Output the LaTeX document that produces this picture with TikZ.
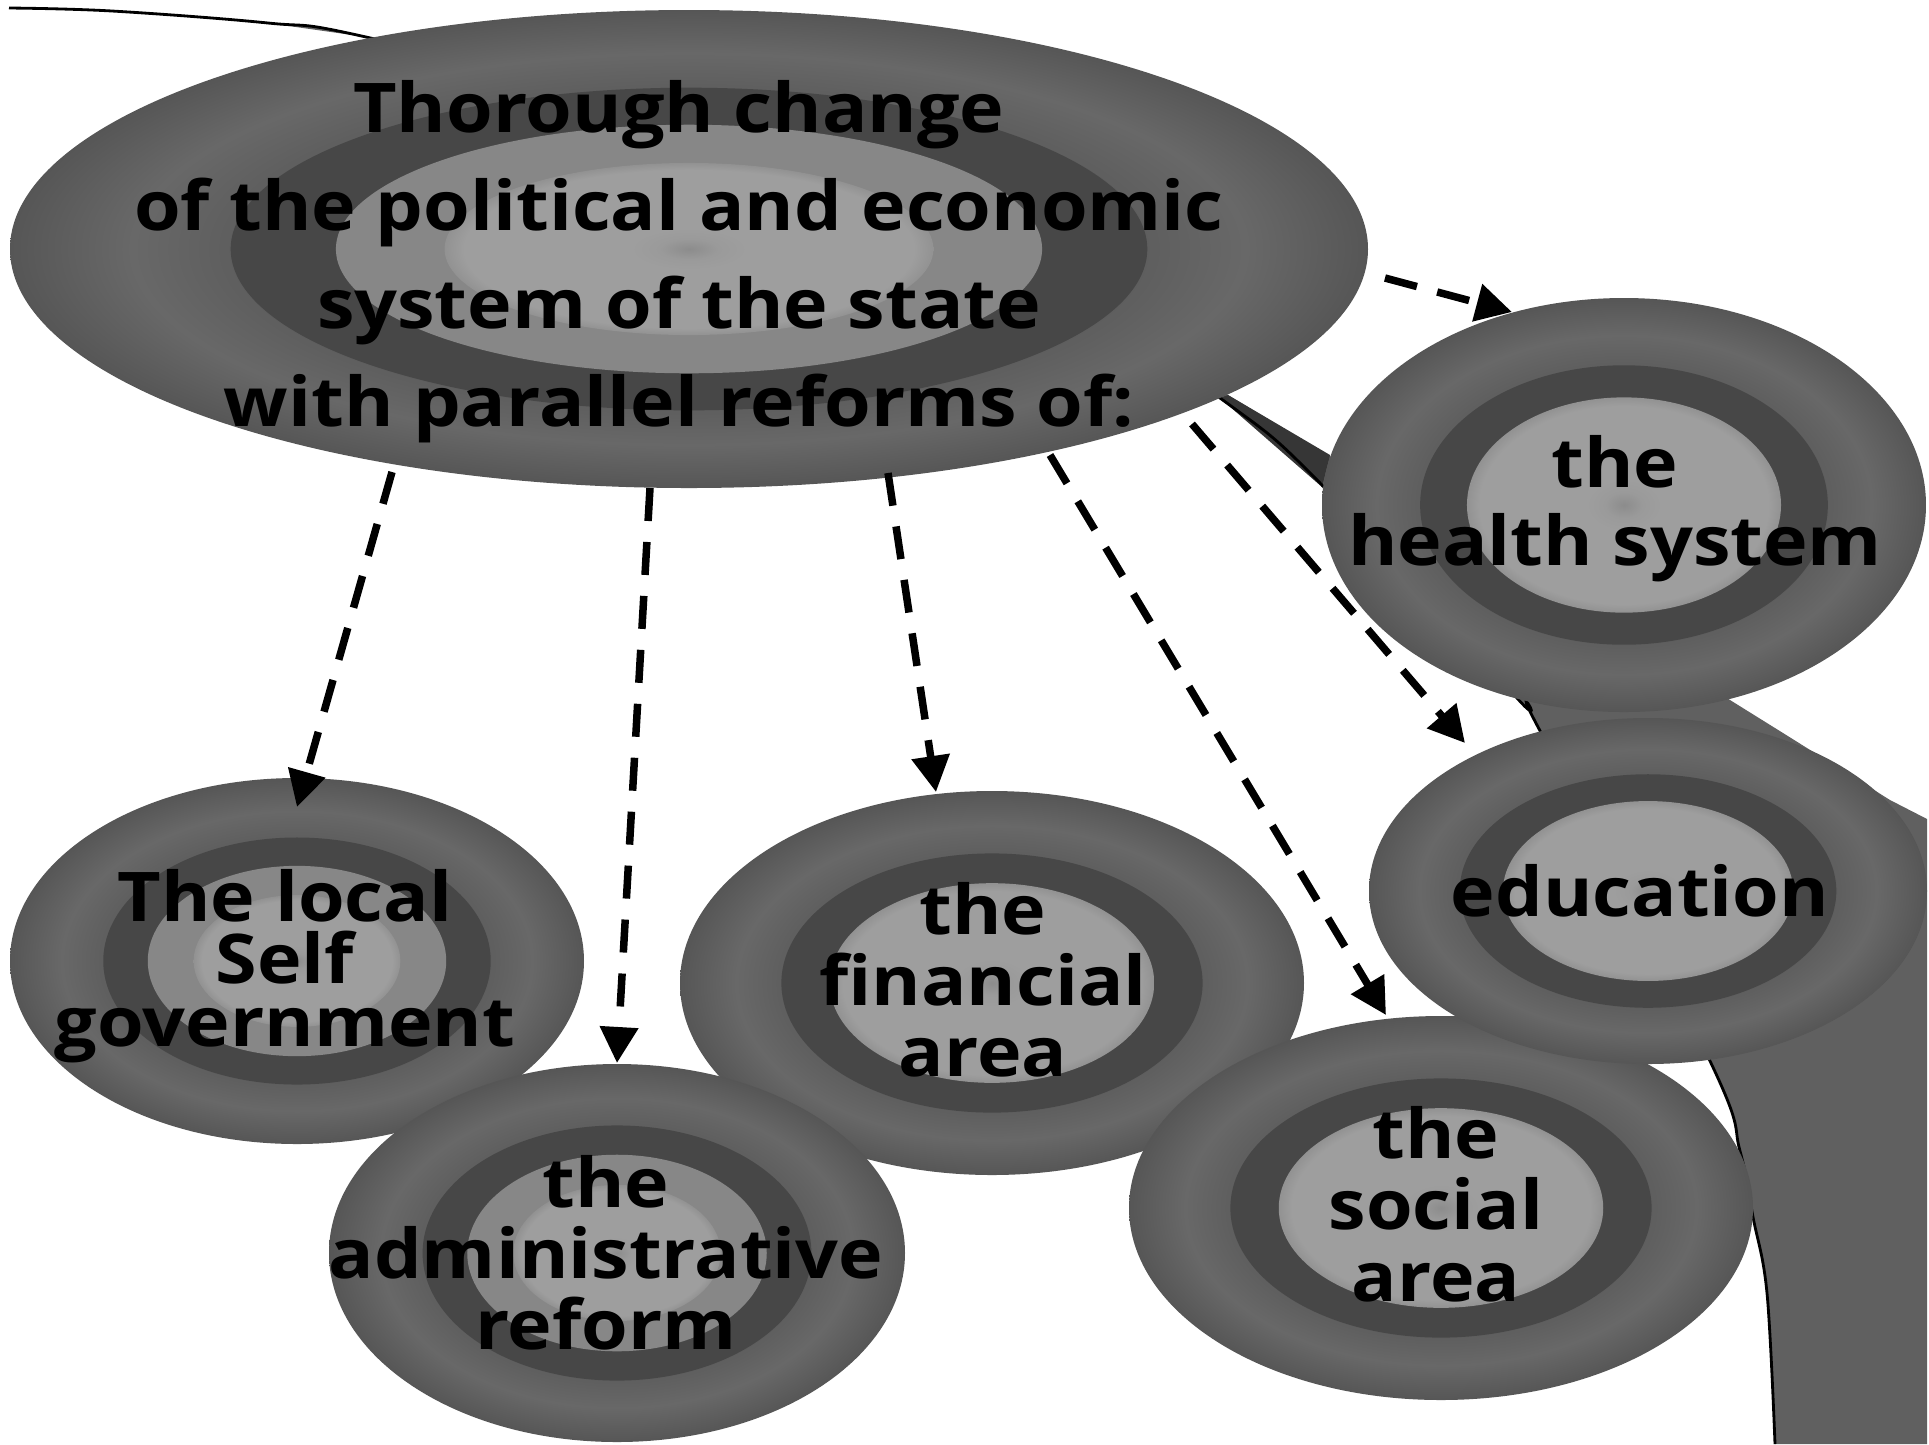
\documentclass[tikz,border=0pt]{standalone}
\usepackage{fontspec}
\setmainfont{Open Sans}[FakeStretch=1.1]
\usetikzlibrary{arrows.meta}
\definecolor{oA}{HTML}{5C5C5C}
\definecolor{oB}{HTML}{686868}
\definecolor{oC}{HTML}{565656}
\definecolor{ringdark}{HTML}{474747}
\definecolor{ringmid}{HTML}{878787}
\definecolor{lA}{HTML}{8C8C8C}
\definecolor{lB}{HTML}{9A9A9A}
\definecolor{lC}{HTML}{9E9E9E}
\definecolor{lD}{HTML}{929292}
\definecolor{bandgrey}{HTML}{606060}
\definecolor{wedgegrey}{HTML}{363636}
\pgfdeclareradialshading{outerring}{\pgfpointorigin}{color(0bp)=(oA); color(16bp)=(oA); color(20.5bp)=(oB); color(25bp)=(oC); color(50bp)=(oC)}
\pgfdeclareradialshading{innerlight}{\pgfpointorigin}{color(0bp)=(lA); color(3bp)=(lB); color(6bp)=(lC); color(23bp)=(lC); color(25bp)=(lD); color(50bp)=(lD)}
\newcommand\targetthree[4]{%
  \shade[shading=outerring] (#1,#2) ellipse [x radius=#3, y radius=#4];
  \fill[ringdark] (#1,#2) ellipse [x radius={0.675*#3}, y radius={0.675*#4}];
  \shade[shading=innerlight] (#1,#2) ellipse [x radius={0.52*#3}, y radius={0.52*#4}];
}
\newcommand\targetfour[4]{%
  \shade[shading=outerring] (#1,#2) ellipse [x radius=#3, y radius=#4];
  \fill[ringdark] (#1,#2) ellipse [x radius={0.675*#3}, y radius={0.675*#4}];
  \fill[ringmid] (#1,#2) ellipse [x radius={0.52*#3}, y radius={0.52*#4}];
  \shade[shading=innerlight] (#1,#2) ellipse [x radius={0.36*#3}, y radius={0.36*#4}];
}
\tikzset{
  lbl/.style={align=center, inner sep=0pt, text=black, font=\bfseries\fontsize{19.5pt}{#1}\selectfont},
  reform/.style={draw=black, line width=0.075cm, dash pattern=on 0.33cm off 0.21cm,
    -{Triangle[length=0.36cm,width=0.37cm]}},
  trunkline/.style={draw=black, line width=0.8pt}
}
\begin{document}
\begin{tikzpicture}[x=0.01cm, y=-0.01cm]
\useasboundingbox (0,0) rectangle (1929,1444);
\fill[white] (0,0) rectangle (1929,1444);
% background crescent
\fill[bandgrey] plot[smooth, tension=0.6] coordinates {(9,8) (112,11) (268,23) (366,37) (700,120) (1000,250) (1220,398) (1322,485) (1517,698) (1538,727) (1710,1061) (1740,1151) (1753,1217) (1767,1293) (1775,1444)}
  -- (1927,1444) -- (1927,819) -- (1890,800) -- (1783,733) -- (1730,700) -- (1328,455) -- (1228,395) -- (366,37) -- (268,23) -- (112,11) -- cycle;
\fill[wedgegrey] (1220,398) -- (1228,395) -- (1330,455) -- (1322,487) -- cycle;
\draw[trunkline] plot[smooth, tension=0.6] coordinates {(9,8) (112,11) (268,23) (366,37) (700,120) (1000,250) (1220,398) (1322,485) (1517,698) (1538,727) (1710,1061) (1740,1151) (1753,1217) (1767,1293) (1775,1444)};
% discs
\targetfour{297}{961}{287}{183}
\targetthree{992}{983}{312}{192}
\targetthree{1441}{1208}{312}{192}
\targetthree{1648}{891}{279}{173}
\targetfour{617}{1253}{288}{189}
\targetthree{1624}{505}{302}{207}
\targetfour{689}{249}{679}{239}
% texts
\node[lbl=27.9pt] (tmain) at (679,262) {Thorough change\\of the political and economic\\system of the state\\with parallel reforms of:};
\node[lbl=22.2pt] (thealth) at (1615,509) {the\\health system};
\node[lbl=20pt] (tedu) at (1640,891) {education};
\node[lbl=20.3pt] (tsocial) at (1436,1204) {the\\social\\area};
\node[lbl=20.2pt] (tfin) at (983,980) {the\\financial\\area};
\node[lbl=17.8pt] (tlocal) at (285,966) {The local\\Self\\government};
\node[lbl=20.2pt] (tadmin) at (606,1253) {the\\administrative\\reform};
% arrow ends
\coordinate (s1) at (392,472); \coordinate (e1) at (297,807);
\coordinate (s2) at (650,488); \coordinate (e2) at (617,1063);
\coordinate (s3) at (888,473); \coordinate (e3) at (936,792);
\coordinate (s4) at (1050,455); \coordinate (e4) at (1386,1015);
\coordinate (s5) at (1192,424); \coordinate (e5) at (1465,743);
\coordinate (s6) at (1385,278); \coordinate (e6) at (1512,312);
\draw[reform] (s1) -- (e1);
\draw[reform] (s2) -- (e2);
\draw[reform] (s3) -- (e3);
\draw[reform] (s4) -- (e4);
\draw[reform] (s5) -- (e5);
\draw[reform] (s6) -- (e6);
\end{tikzpicture}
\end{document}
